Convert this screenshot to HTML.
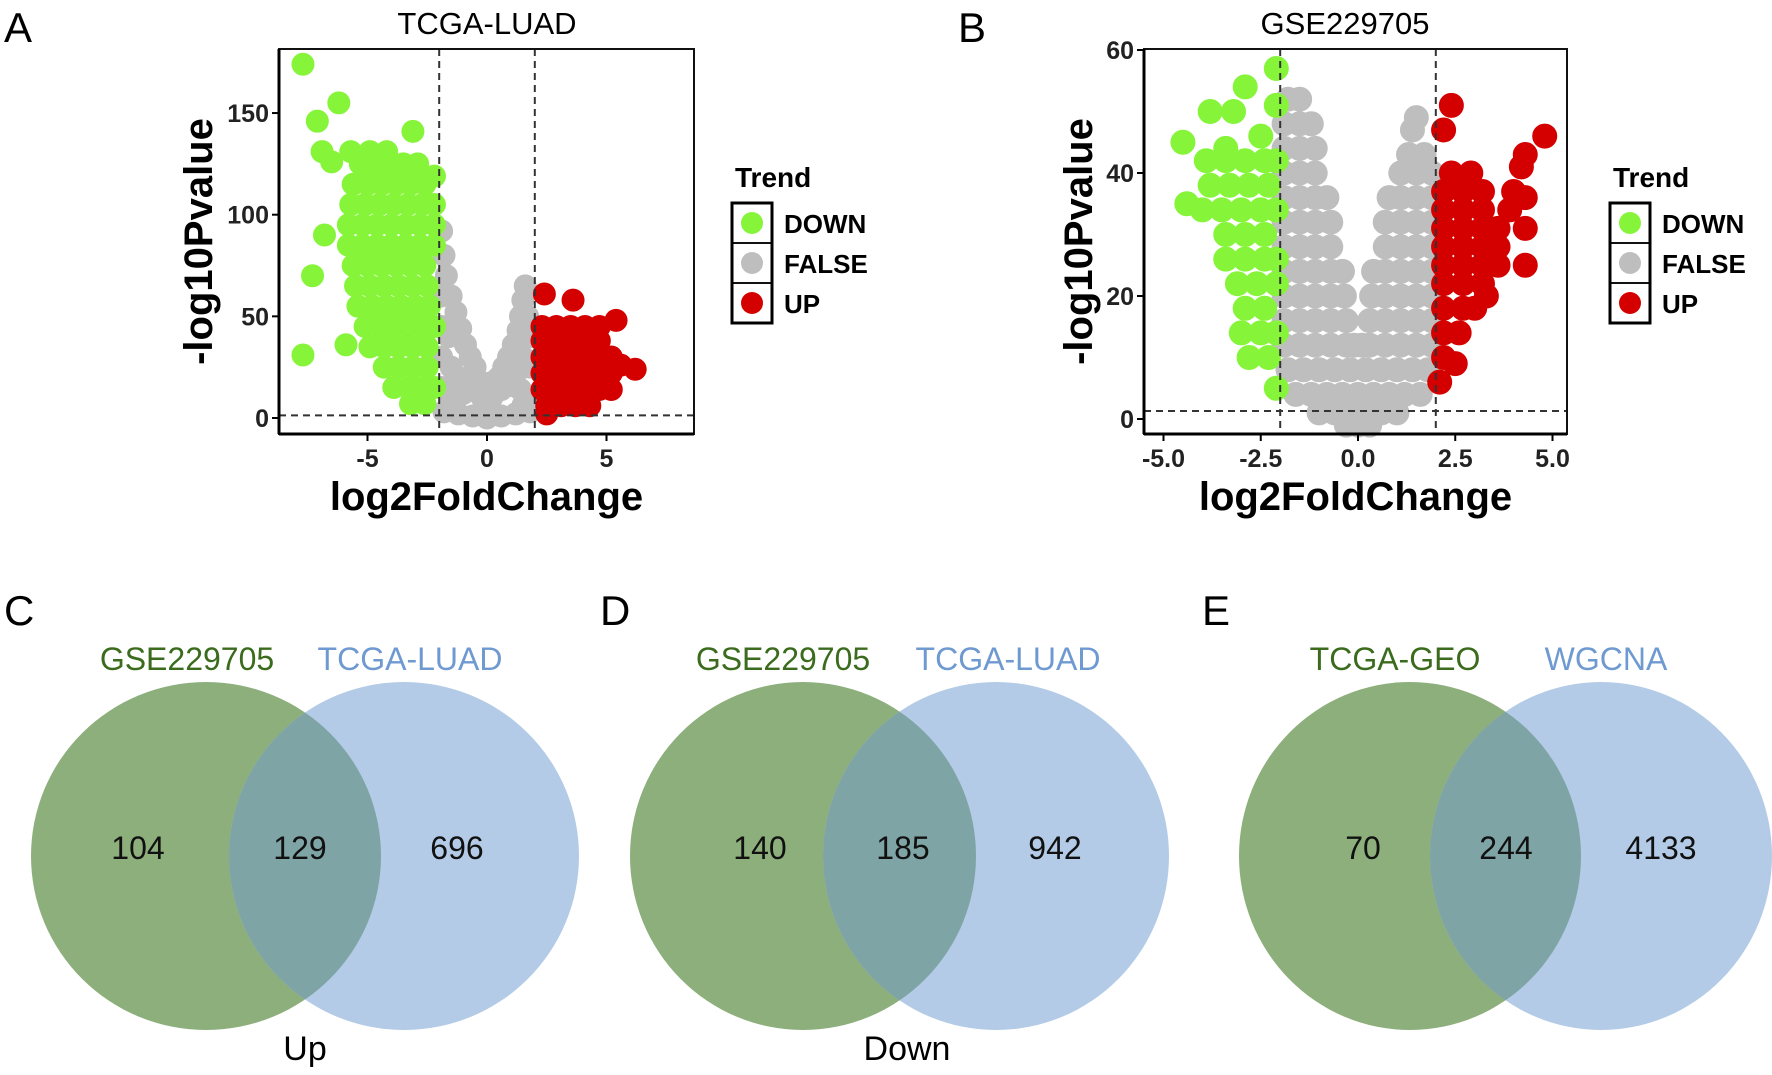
<!DOCTYPE html>
<html><head><meta charset="utf-8"><style>
body{margin:0;background:#fff;}
svg{display:block;font-family:"Liberation Sans",Arial,sans-serif;}
</style></head><body>
<svg id="fig" width="1772" height="1075" viewBox="0 0 1772 1075" xmlns="http://www.w3.org/2000/svg">
<rect width="1772" height="1075" fill="#fff"/>
<text x="4" y="42" font-size="42">A</text>
<text x="958" y="42" font-size="42">B</text>
<text x="4" y="625" font-size="42">C</text>
<text x="600" y="625" font-size="42">D</text>
<text x="1202" y="625" font-size="42">E</text>
<g id="panelA"></g>
<g id="panelB"></g>
<g id="venns"></g>
</svg>
<script>
// ---------- Panel A data (TCGA-LUAD) ----------
const aDownRows = [
 [174,[-7.7]],[155,[-6.2]],[146,[-7.1]],[141,[-3.1]],[131,[-6.9,-5.7,-4.9,-4.2]],[126,[-6.5]],[119,[-2.2]],
 [125,[-5.3,-4.7,-4.1,-3.5,-2.9]],[115,[-5.6,-5.0,-4.4,-3.8,-3.2,-2.6]],
 [105,[-5.7,-5.1,-4.5,-3.9,-3.3,-2.7,-2.2]],[95,[-5.8,-5.2,-4.6,-4.0,-3.4,-2.8,-2.2]],
 [90,[-6.8]],[85,[-5.8,-5.2,-4.6,-4.0,-3.4,-2.8,-2.2]],[75,[-5.6,-5.0,-4.4,-3.8,-3.2,-2.6]],
 [70,[-7.3]],[65,[-5.5,-4.9,-4.3,-3.7,-3.1,-2.5]],[55,[-5.4,-4.8,-4.2,-3.6,-3.0,-2.4]],
 [45,[-5.1,-4.5,-3.9,-3.3,-2.7,-2.2]],[36,[-5.9]],[31,[-7.7]],[35,[-4.9,-4.3,-3.7,-3.1,-2.5]],
 [25,[-4.3,-3.7,-3.1,-2.5]],[15,[-3.9,-3.3,-2.7,-2.2]],[7,[-3.2,-2.6]]
];
const aFalseRows = [
 [92,[-1.9]],[80,[-1.8]],[70,[-1.7]],[65,[1.6]],[60,[-1.5,-1.9]],[58,[1.5]],[52,[-1.3]],[50,[1.4,1.7]],
 [44,[-1.1]],[45,[-1.9]],[43,[1.3]],[40,[-1.6,1.8]],[36,[-0.9,1.1]],[30,[-0.7,-1.9,0.9,1.5]],
 [25,[-0.5,-1.5,0.7,1.8]],[22,[1.2]],[20,[-1.2,0.5]],[18,[-0.3,0.3]],[15,[-1.9]],
 [14,[-0.6,0.6,1.4]],[12,[-1.0]],[16,[1.0]],[10,[-1.5,-0.2,0.2,1.8]],[6,[1.5]],[5,[-1.6]],
 [3,[-1.8,1.8]],[2,[-1.2,1.2]],[1,[-0.6,0.6]],[0,[0]]
];
const aUpRows = [
 [61,[2.4]],[58,[3.6]],[48,[5.4]],[45,[2.3,2.9,3.5,4.1,4.7]],[38,[2.3,2.9,3.5,4.1,4.7]],
 [30,[2.3,2.9,3.5,4.1,4.7,5.2]],[26,[5.6]],[24,[6.2]],[22,[2.3,2.9,3.5,4.1,4.7,5.2]],
 [14,[2.3,2.9,3.5,4.1,4.7,5.2]],[6,[2.5,3.1,3.7,4.3]],[2,[2.5]]
];
const aXTicks = [-5,0,5];
const aYTicks = [0,50,100,150];
// ---------- Panel B data (GSE229705) ----------
const bDownRows = [
 [57,[-2.1]],[54,[-2.9]],[51,[-2.1]],[50,[-3.2,-3.8]],[46,[-2.5]],[45,[-4.5]],[44,[-3.4]],[35,[-4.4]],[34,[-4.0]],
 [42,[-3.9,-3.4,-2.9,-2.4,-2.1]],[38,[-3.8,-3.3,-2.8,-2.3]],[34,[-3.5,-3.0,-2.5,-2.1]],
 [30,[-3.4,-2.9,-2.4]],[26,[-3.4,-2.9,-2.4,-2.1]],[22,[-3.1,-2.6,-2.1]],[18,[-2.9,-2.4]],
 [14,[-3.0,-2.5,-2.1]],[10,[-2.8,-2.3]],[5,[-2.1]]
];
const bFalseRows = [
 [52,[-1.8,-1.5]],[48,[-1.9,-1.5,-1.2]],[44,[-1.9,-1.5,-1.1]],[40,[-1.9,-1.5,-1.1]],
 [36,[-1.9,-1.5,-1.1,-0.8]],[32,[-1.9,-1.5,-1.1,-0.7]],[28,[-1.9,-1.5,-1.1,-0.7]],
 [24,[-1.9,-1.5,-1.1,-0.7,-0.4]],[20,[-1.9,-1.5,-1.1,-0.7,-0.35]],[16,[-1.9,-1.5,-1.1,-0.7,-0.3]],
 [12,[-1.9,-1.5,-1.1,-0.7,-0.3,-0.1]],
 [49,[1.5]],[47,[1.4]],[43,[1.7,1.3]],[40,[1.9,1.5,1.1]],[36,[1.9,1.5,1.1,0.8]],[32,[1.9,1.5,1.1,0.7]],
 [28,[1.9,1.5,1.1,0.7]],[24,[1.9,1.5,1.1,0.7,0.4]],[20,[1.9,1.5,1.1,0.7,0.35]],[16,[1.9,1.5,1.1,0.7,0.3]],
 [12,[1.9,1.5,1.1,0.7,0.3,0.1]],
 [8,[-1.8,-1.4,-1.0,-0.6,-0.2,0.2,0.6,1.0,1.4,1.8]],[4,[-1.6,-1.2,-0.8,-0.4,0,0.4,0.8,1.2,1.6]],
 [1,[-1.0,-0.6,-0.2,0.2,0.6,1.0]],[-1,[-0.3,0,0.3]]
];
const bUpRows = [
 [51,[2.4]],[47,[2.2]],[46,[4.8]],[43,[4.3]],[41,[4.2]],[37,[4.0]],[36,[4.3]],[34,[3.9]],[31,[4.3]],[25,[4.3]],
 [40,[2.4,2.9]],[37,[2.2,2.7,3.2]],[34,[2.2,2.7,3.2]],[31,[2.2,2.7,3.2,3.6]],[28,[2.2,2.7,3.2,3.6]],
 [25,[2.2,2.7,3.2,3.6]],[22,[2.2,2.7,3.2]],[20,[3.3]],[18,[2.2,2.7,3.0]],[14,[2.2,2.6]],[10,[2.2]],[9,[2.5]],[6,[2.1]]
];
const bXTicks = [-5,-2.5,0,2.5,5];
const bXTickLabels = ["-5.0","-2.5","0.0","2.5","5.0"];
const bYTicks = [0,20,40,60];
// ---------- Venn data ----------
const vennLeftNames = ["GSE229705","GSE229705","TCGA-GEO"];
const vennRightNames = ["TCGA-LUAD","TCGA-LUAD","WGCNA"];
const vennLeftOnly = [104,140,70];
const vennShared = [129,185,244];
const vennRightOnly = [696,942,4133];
const vennCaptions = ["Up","Down",""];

const NS="http://www.w3.org/2000/svg";
function mk(tag,attrs,parent,text){const e=document.createElementNS(NS,tag);for(const k in attrs)e.setAttribute(k,attrs[k]);if(text!==undefined)e.textContent=text;parent.appendChild(e);return e;}

function volcano(g,cfg){
  const sx=v=>cfg.x0+v*cfg.kx, sy=v=>cfg.y0-v*cfg.ky;
  const groups=[[cfg.falseRows,"#bebebe","false-point"],[cfg.downRows,"#86f53a","down-point"],[cfg.upRows,"#d40000","up-point"]];
  groups.forEach(([rows,col,name])=>{
    rows.forEach(([y,xs])=>xs.forEach(x=>{
      const c=mk("circle",{cx:sx(x),cy:sy(y),r:cfg.r,fill:col,stroke:col,"stroke-width":5},g);
      
      
    }));
  });
  [-2,2].forEach(v=>{const l=mk("line",{x1:sx(v),x2:sx(v),y1:cfg.top,y2:cfg.bot,stroke:"#333","stroke-width":2,"stroke-dasharray":"7,5"},g);
    });
  const h=mk("line",{x1:cfg.left,x2:cfg.right,y1:sy(1.3),y2:sy(1.3),stroke:"#333","stroke-width":2,"stroke-dasharray":"7,5"},g);
  
  const box=mk("rect",{x:cfg.left,y:cfg.top,width:cfg.right-cfg.left,height:cfg.bot-cfg.top,fill:"none",stroke:"#111","stroke-width":2},g);
  
  mk("line",{x1:cfg.left,x2:cfg.right,y1:cfg.bot,y2:cfg.bot,stroke:"#000","stroke-width":3},g);
  mk("line",{x1:cfg.left,x2:cfg.left,y1:cfg.top,y2:cfg.bot,stroke:"#000","stroke-width":3},g);
  cfg.xTicks.forEach((v,i)=>{mk("line",{x1:sx(v),x2:sx(v),y1:cfg.bot,y2:cfg.bot+7,stroke:"#000","stroke-width":2},g);
    const t=mk("text",{x:sx(v),y:cfg.bot+33,"font-size":25,"font-weight":"bold","text-anchor":"middle",fill:"#222"},g,cfg.xLabels?cfg.xLabels[i]:String(v));
    });
  cfg.yTicks.forEach(v=>{mk("line",{x1:cfg.left-7,x2:cfg.left,y1:sy(v),y2:sy(v),stroke:"#000","stroke-width":2},g);
    const t=mk("text",{x:cfg.left-10,y:sy(v)+9,"font-size":25,"font-weight":"bold","text-anchor":"end",fill:"#222"},g,String(v));
    });
  const xt=mk("text",{x:(cfg.left+cfg.right)/2,y:510,"font-size":40,"font-weight":"bold","text-anchor":"middle"},g,"log2FoldChange");
  
  const cy=(cfg.top+cfg.bot)/2;
  const yt=mk("text",{x:cfg.ytx,y:cy,"font-size":40,"font-weight":"bold","text-anchor":"middle",transform:`rotate(-90 ${cfg.ytx} ${cy})`},g,"-log10Pvalue");
  
  const tt=mk("text",{x:cfg.titleX,y:34,"font-size":31,"text-anchor":"middle"},g,cfg.title);
  
  const L=cfg.legX,LT=203;
  const lt=mk("text",{x:L+3,y:187,"font-size":28,"font-weight":"bold"},g,"Trend");
  
  [["DOWN","#86f53a"],["FALSE","#bebebe"],["UP","#d40000"]].forEach(([lab,col],i)=>{
    const y=LT+i*40;
    const e=mk("g",{},g);
    mk("rect",{x:L,y:y,width:40,height:40,fill:"#fff",stroke:"#111","stroke-width":2},e);
    mk("circle",{cx:L+20,cy:y+20,r:11,fill:col},e);
    mk("text",{x:L+52,y:y+30,"font-size":26,"font-weight":"bold"},e,lab);
  });
  mk("rect",{x:L,y:LT,width:40,height:120,fill:"none",stroke:"#000","stroke-width":3},g);
}
volcano(document.getElementById("panelA"),{x0:487,kx:23.9,y0:418,ky:2.033,left:279,right:694,top:49,bot:434,r:9,
  downRows:aDownRows,falseRows:aFalseRows,upRows:aUpRows,xTicks:aXTicks,yTicks:aYTicks,ytx:212,titleX:487,title:"TCGA-LUAD",legX:732});
volcano(document.getElementById("panelB"),{x0:1358,kx:38.9,y0:419,ky:6.15,left:1144,right:1567,top:49,bot:434,r:10,
  downRows:bDownRows,falseRows:bFalseRows,upRows:bUpRows,xTicks:bXTicks,xLabels:bXTickLabels,yTicks:bYTicks,ytx:1092,titleX:1345,title:"GSE229705",legX:1610});

const vg=document.getElementById("venns");
// [green cx, blue cx, r, left label x, right label x, left num x, mid num x, right num x, caption x]
const vennPos=[[206,404,175,187,410,138,300,457,305],[803,996,173,783,1008,760,903,1055,907],[1410,1601,171,1395,1606,1363,1506,1661,0]];
vennPos.forEach(([gx,bx,R,lx,rx,n1,n2,n3,capx],i)=>{
  const g=mk("g",{},vg);
  
  
  const cy=856,RY=174;
  const cp=mk("clipPath",{id:"clip"+i},g);mk("ellipse",{cx:gx,cy:cy,rx:R,ry:RY},cp);
  const c1=mk("ellipse",{cx:gx,cy:cy,rx:R,ry:RY,fill:"#8caf7c"},g);
  
  const c2=mk("ellipse",{cx:bx,cy:cy,rx:R,ry:RY,fill:"#b3cbe6"},g);
  
  mk("ellipse",{cx:bx,cy:cy,rx:R,ry:RY,fill:"#7fa4a5","clip-path":`url(#clip${i})`},g);
  const t1=mk("text",{x:lx,y:670,"font-size":32,"text-anchor":"middle",fill:"#3b6b1c"},g,vennLeftNames[i]);
  
  const t2=mk("text",{x:rx,y:670,"font-size":32,"text-anchor":"middle",fill:"#6f99d1"},g,vennRightNames[i]);
  
  [[n1,vennLeftOnly[i],'left-count'],[n2,vennShared[i],'shared-count'],[n3,vennRightOnly[i],'right-count']].forEach(([x,v,n])=>{
    const t=mk("text",{x:x,y:859,"font-size":32,"text-anchor":"middle",fill:"#111"},g,String(v));
    
  });
  if(vennCaptions[i]){const c=mk("text",{x:capx,y:1060,"font-size":34,"text-anchor":"middle"},g,vennCaptions[i]);
    }
});
</script>
</body></html>
